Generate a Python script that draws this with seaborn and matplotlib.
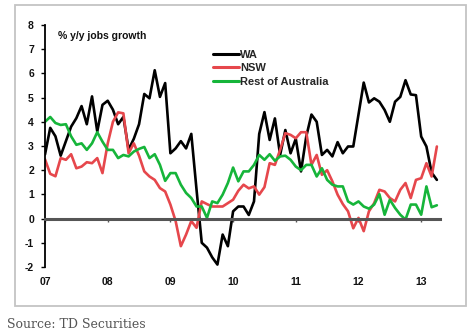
import numpy as np
import pandas as pd
import matplotlib
matplotlib.use("Agg")
import matplotlib.pyplot as plt
import seaborn as sns
from matplotlib.patches import Rectangle

# ---- data (monthly, Jan 2007 .. Apr 2013), % y/y jobs growth ----
wa = [2.65, 3.75, 3.4, 2.6, 3.2, 3.8, 4.15, 4.65, 3.9, 5.05,
      3.6, 4.7, 4.87, 4.5, 3.9, 4.2, 2.85, 3.3, 3.9, 5.15,
      4.97, 6.13, 5.03, 5.6, 2.7, 2.9, 3.2, 2.9, 3.5, 1.2,
      -1.0, -1.2, -1.6, -1.9, -0.66, -1.14, 0.3, 0.5, 0.5, 0.15,
      0.71, 3.5, 4.4, 3.25, 4.14, 2.63, 3.66, 2.7, 3.3, 1.95,
      3.39, 4.3, 4.0, 2.63, 2.84, 2.57, 3.16, 2.7, 2.98, 2.98,
      4.3, 5.62, 4.8, 4.97, 4.83, 4.49, 4.0, 4.83, 5.03, 5.72,
      5.13, 5.1, 3.39, 2.98, 1.9, 1.6]
nsw = [2.45, 1.85, 1.75, 2.5, 2.43, 2.66, 2.08, 2.15, 2.33, 2.29,
       2.5, 1.88, 3.1, 4.0, 4.39, 4.35, 2.7, 3.11, 2.6, 1.95,
       1.74, 1.6, 1.26, 1.12, 0.58, -0.1, -1.14, -0.66, -0.1, -0.38,
       0.71, 0.6, 0.5, 0.5, 0.5, 0.64, 0.78, 1.15, 1.4, 1.25,
       1.33, 0.99, 1.3, 2.29, 2.22, 2.84, 3.53, 3.46, 3.32, 3.57,
       3.57, 2.22, 2.63, 1.81, 2.0, 1.54, 0.99, 0.6, 0.3, -0.4,
       0.03, -0.52, 0.3, 0.64, 1.19, 1.12, 0.85, 0.71, 1.19, 1.47,
       0.85, 1.6, 1.67, 2.29, 1.74, 2.98]
rest = [4.0, 4.2, 3.95, 3.87, 3.9, 3.4, 3.05, 3.11, 2.84, 3.11,
        3.57, 3.18, 2.84, 2.84, 2.5, 2.63, 2.57, 2.77, 2.88, 2.96,
        2.5, 2.66, 2.22, 1.56, 1.88, 1.88, 1.4, 1.06, 0.85, 0.5,
        0.5, 0.03, 0.71, 0.64, 0.99, 1.47, 2.11, 1.54, 1.95, 1.95,
        2.22, 2.63, 2.43, 2.66, 2.39, 2.57, 2.6, 2.43, 2.15, 2.0,
        2.22, 2.22, 1.74, 2.08, 1.6, 1.4, 1.33, 1.33, 0.71, 0.58,
        0.71, 0.5, 0.41, 0.58, 1.01, 0.16, 0.78, 0.44, 0.16, -0.04,
        0.58, 0.58, 0.16, 1.33, 0.47, 0.55]
series_names = ["WA", "NSW", "Rest of Australia"]
year_labels = ["07", "08", "09", "10", "11", "12", "13"]
y_ticks = list(range(-2, 9))
colors = ["#000000", "#e6474c", "#16b53a"]

sns.set_theme(style="white")
plt.rcParams["font.family"] = ["Liberation Sans", "DejaVu Sans"]

n = len(wa)
months = np.arange(n)
df = pd.DataFrame({
    "month": np.tile(months, 3),
    "value": wa + nsw + rest,
    "series": np.repeat(series_names, n),
})

W, H = 470, 333
fig = plt.figure(figsize=(W / 100, H / 100), dpi=100)
fig.patch.set_facecolor("white")
ax = fig.add_axes([45 / W, 66 / H, 395 / W, 242 / H])
ax.set_facecolor("white")

sns.lineplot(data=df, x="month", y="value", hue="series",
             hue_order=series_names, palette=colors, linewidth=1.9,
             ax=ax, legend=True)

ax.set_xlim(0, 75.6)
ax.set_ylim(-2, 8)
ax.set_xlabel("")
ax.set_ylabel("")

for s in ["top", "right"]:
    ax.spines[s].set_visible(False)
ax.spines["left"].set_color("black")
ax.spines["left"].set_linewidth(1.3)
ax.spines["bottom"].set_position(("data", 0))
ax.spines["bottom"].set_color("#555555")
ax.spines["bottom"].set_linewidth(2.2)

year_pos = [12 * k for k in range(len(year_labels))]
ax.set_xticks(year_pos)
ax.set_xticklabels([""] * len(year_pos))
ax.tick_params(axis="x", direction="out", length=2.5, width=1, color="#555555", bottom=True)

ax.set_yticks(y_ticks)
ax.set_yticklabels([str(v) for v in y_ticks], fontweight="bold")
ax.tick_params(axis="y", direction="out", length=3, width=1, color="black",
               labelsize=7.5, pad=5, left=True, labelcolor="#111111")

sec = ax.secondary_xaxis(0.0)
sec.set_xticks(year_pos)
sec.set_xticklabels(year_labels, fontweight="bold")
sec.tick_params(length=0, pad=7, labelsize=7.5, labelcolor="#111111")
sec.spines["bottom"].set_visible(False)

fig.text(58 / W, 1 - 36 / H, "% y/y jobs growth", fontsize=7.5,
         fontweight="bold", color="#111111", va="center", ha="left")

leg = ax.legend(loc="upper left", bbox_to_anchor=(213 / W, 1 - 50 / H),
                bbox_transform=fig.transFigure, frameon=False,
                handlelength=2.3, handletextpad=0.15, labelspacing=0.3,
                borderpad=0, borderaxespad=0,
                prop={"size": 8, "weight": "bold"})
for line in leg.get_lines():
    line.set_linewidth(2.2)

fig.add_artist(Rectangle((15 / W, 1 - 306 / H), (466 - 15) / W, (306 - 5) / H,
                         transform=fig.transFigure, fill=False,
                         edgecolor="#c4c4c4", linewidth=1.3))

fig.text(7 / W, 1 - 324 / H, "Source: TD Securities", family="DejaVu Serif",
         fontsize=9, color="#555555", va="center", ha="left")

fig.savefig("out.png", dpi=100, facecolor="white")
